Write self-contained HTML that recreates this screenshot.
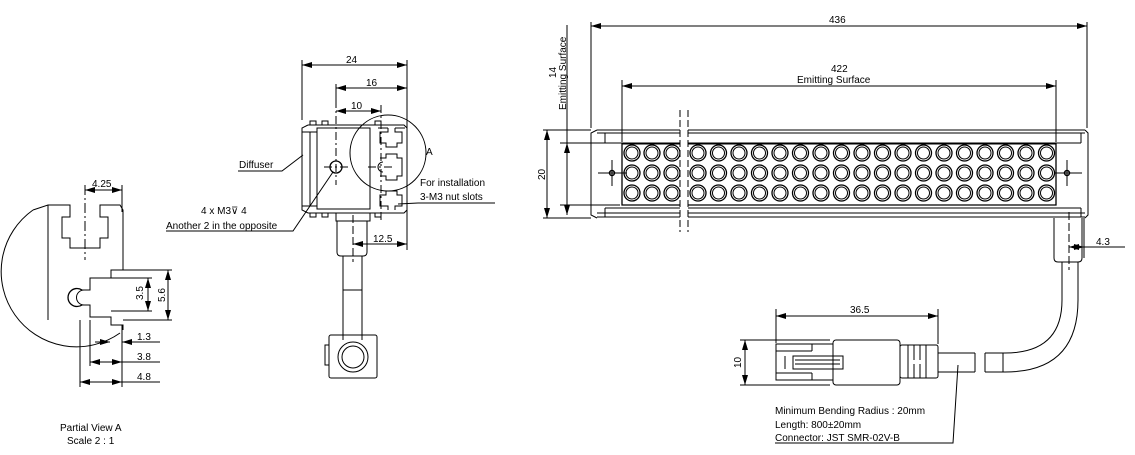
<!DOCTYPE html>
<html><head><meta charset="utf-8"><style>
html,body{margin:0;padding:0;background:#fff;}
svg{display:block;}
text{font-family:"Liberation Sans",sans-serif;font-size:10px;fill:#000;}
</style></head><body>
<svg width="1135" height="455" viewBox="0 0 1135 455" xmlns="http://www.w3.org/2000/svg">
<defs>
<marker id="a" viewBox="0 0 10 6" refX="10" refY="3" markerWidth="10" markerHeight="6" orient="auto-start-reverse" markerUnits="userSpaceOnUse"><path d="M0,0 L10,3 L0,6 z" fill="#000"/></marker>
<g id="led"><circle r="8" fill="none" stroke="#000" stroke-width="1.3"/><circle r="6" fill="none" stroke="#000" stroke-width="1"/></g>
</defs>
<g fill="none" stroke="#000" stroke-width="1">

<!-- ===== Partial view A ===== -->
<path d="M33,210 A75,75 0 0 0 120,333"/>
<path d="M33,210 L48,205 L70,205 L70,217 L62,217 L62,238 L70,238 L70,248 L100,248 L100,238 L108,238 L108,217 L100,217 L100,205 L120,205 L123,210 L123,217"/>
<path d="M48,205 L48,320"/>
<path d="M123,217 L123,270 L111,270 L111,278 L90,278 L90,290 L82,290 M82,305 L90,305 L90,317 L111,317 L111,325 L123,325 L123,330"/>
<path d="M82,290 A9,9 0 1 0 82,305" stroke-width="1.3"/>
<path d="M84,290 A7,7 0 1 0 84,305"/>
<path d="M85,185 L85,260" stroke-dasharray="10,3,2,3"/>
<path d="M122,185 L122,212"/>
<line x1="85" y1="190" x2="122" y2="190" marker-start="url(#a)" marker-end="url(#a)"/>
<path d="M123,270 L172,270 M123,320 L172,320 M111,278 L152,278 M111,311 L152,311"/>
<line x1="168" y1="270" x2="168" y2="320" marker-start="url(#a)" marker-end="url(#a)"/>
<line x1="148" y1="278" x2="148" y2="311" marker-start="url(#a)" marker-end="url(#a)"/>
<path d="M80,320 L80,387 M90,320 L90,366 M122,325 L122,387"/>
<line x1="95" y1="342" x2="110" y2="342" marker-end="url(#a)"/><line x1="137" y1="342" x2="122" y2="342" marker-end="url(#a)"/><path d="M122,342 L160,342"/>
<line x1="90" y1="362" x2="122" y2="362" marker-start="url(#a)" marker-end="url(#a)"/><path d="M122,362 L160,362"/>
<line x1="80" y1="382" x2="122" y2="382" marker-start="url(#a)" marker-end="url(#a)"/><path d="M122,382 L160,382"/>

<!-- ===== Side view ===== -->
<path d="M308,125 L404,125 L407,128 L407,210 L404,213 L308,213 M308,125 L302,128 L302,210 L308,213"/>
<rect x="317" y="128" width="53" height="81"/>
<path d="M310,132 L310,206 M302,132 L317,132 M302,206 L317,206"/>
<path d="M310,125 L310,121 L316,121 L316,125 M322,125 L322,121 L328,121 L328,125 M375,125 L375,121 L381,121 L381,125 M310,213 L310,217 L316,217 L316,213 M322,213 L322,217 L328,217 L328,213 M375,213 L375,217 L381,217 L381,213"/>
<circle cx="336" cy="167" r="6" stroke-width="1.3"/>
<path d="M324,167 L350,167 M336,100 L336,185" stroke-dasharray="8,3,2,3"/>
<circle cx="388" cy="153" r="38"/>
<path d="M395,128 L405,128 M378,128 L388,128 M388,128 L388,132 L380,132 L380,143 L386,143 L386,147 L397,147 L397,143 L402,143 L402,132 L395,132 L395,128"/>
<path d="M380,158 L386,158 L386,154 L397,154 L397,158 L402,158 L402,176 L397,176 L397,180 L386,180 L386,176 L380,176"/>
<path d="M388,210 L388,206 L380,206 L380,195 L386,195 L386,191 L397,191 L397,195 L402,195 L402,206 L395,206 L395,210"/>
<path d="M383,162 A5,5 0 1 0 383,172"/>
<path d="M368,167 L395,167 M381,105 L381,220" stroke-dasharray="8,3,2,3"/>
<path d="M302,60 L302,120 M407,60 L407,250 M336,84 L336,100"/>
<line x1="302" y1="65" x2="407" y2="65" marker-start="url(#a)" marker-end="url(#a)"/>
<line x1="336" y1="88" x2="407" y2="88" marker-start="url(#a)" marker-end="url(#a)"/>
<line x1="336" y1="111" x2="381" y2="111" marker-start="url(#a)" marker-end="url(#a)"/>
<rect x="336" y="213" width="34" height="8"/>
<path d="M337,221 L337,252 Q337,256 341,256 L363,256 Q367,256 367,252 L367,221"/>
<path d="M343,256 L343,340 M362,256 L362,340 M343,290 L362,290"/>
<path d="M353,215 L353,262" stroke-dasharray="8,3"/>
<rect x="329" y="335" width="48" height="43" rx="2"/>
<path d="M329,345 L325,345 L325,365 L329,365"/>
<circle cx="353" cy="357" r="15"/><circle cx="353" cy="357" r="11"/>
<line x1="353" y1="244" x2="407" y2="244" marker-start="url(#a)" marker-end="url(#a)"/>
<path d="M238,171 L282,171 L303,155" />
<path d="M166,231 L293,231 L333,172"/>
<path d="M418,203 L495,203 M418,203 L398,204"/>

<!-- ===== Front view ===== -->
<path d="M597,130 L680,130 M688,130 L1085,130 M597,133 L680,133 M688,133 L1085,133"/>
<path d="M605,143 L680,143 M688,143 L1081,143 M605,208 L680,208 M688,208 L1081,208"/>
<path d="M597,213 L680,213 M688,213 L1085,213 M597,217 L680,217 M688,217 L1085,217"/>
<path d="M597,130 L591,133 L591,215 L597,218 M605,133 L605,143 M605,208 L605,217"/>
<path d="M1081,133 L1081,143 M1081,208 L1081,217 M1085,130 L1088,133 L1088,215 L1085,218"/>
<path d="M622,143 L622,205 L680,205 M688,205 L1056,205 L1056,143" stroke-width="1.3"/>
<path d="M622,144 L680,144 M688,144 L1056,144"/>
<circle cx="612" cy="173" r="2.5" stroke-width="1.5"/><path d="M598,173 L627,173 M612,160 L612,186"/>
<circle cx="1067" cy="173" r="2.5" stroke-width="1.5"/><path d="M1055,173 L1082,173 M1067,160 L1067,186"/>
<g>
<use href="#led" x="632" y="153"/><use href="#led" x="652" y="153"/><use href="#led" x="672" y="153"/>
<use href="#led" x="632" y="173"/><use href="#led" x="652" y="173"/><use href="#led" x="672" y="173"/>
<use href="#led" x="632" y="193"/><use href="#led" x="652" y="193"/><use href="#led" x="672" y="193"/>
</g>
<g id="cols">
<use href="#led" x="698" y="153"/><use href="#led" x="698" y="173"/><use href="#led" x="698" y="193"/>
</g>
<use href="#cols" x="20.5"/><use href="#cols" x="41"/><use href="#cols" x="61.5"/><use href="#cols" x="82"/><use href="#cols" x="102.5"/><use href="#cols" x="123"/><use href="#cols" x="143.5"/><use href="#cols" x="164"/><use href="#cols" x="184.5"/><use href="#cols" x="205"/><use href="#cols" x="225.5"/><use href="#cols" x="246"/><use href="#cols" x="266.5"/><use href="#cols" x="287"/><use href="#cols" x="307.5"/><use href="#cols" x="328"/><use href="#cols" x="348.5"/>
<rect x="680.5" y="120" width="7" height="120" fill="#fff" stroke="none"/>
<path d="M680,110 L680,232 M688,110 L688,232" stroke-dasharray="7,3"/>
<!-- dims -->
<path d="M591,22 L591,128 M1087,22 L1087,128 M622,80 L622,142 M1056,80 L1056,142"/>
<line x1="591" y1="26" x2="1087" y2="26" marker-start="url(#a)" marker-end="url(#a)"/>
<line x1="622" y1="86" x2="1056" y2="86" marker-start="url(#a)" marker-end="url(#a)"/>
<path d="M567,25 L567,143"/>
<line x1="567" y1="143" x2="567" y2="215" marker-start="url(#a)" marker-end="url(#a)"/>
<path d="M560,143 L605,143 M560,205 L620,205 M543,130 L591,130 M543,218 L591,218"/>
<line x1="547" y1="130" x2="547" y2="218" marker-start="url(#a)" marker-end="url(#a)"/>
<!-- connector right -->
<path d="M1054,218 L1054,258 Q1054,262 1058,262 L1078,262 Q1082,262 1082,258 L1082,218"/>
<path d="M1069,212 L1069,270" stroke-dasharray="8,3"/>
<path d="M1084,218 L1084,258"/>
<line x1="1069" y1="247" x2="1084" y2="247" marker-start="url(#a)" marker-end="url(#a)"/>
<path d="M1084,247 L1125,247"/>
<!-- cable -->
<path d="M1078,262 L1078,300 Q1078,372 1005,372 L985,372"/>
<path d="M1062,262 L1062,300 Q1062,353 1005,353 L985,353"/>
<path d="M1003,353 L1003,372 M985,353 L985,372 M975,353 L975,372"/>
<path d="M938,353 L975,353 M938,372 L975,372"/>
<rect x="900" y="345" width="38" height="33" rx="2"/>
<path d="M908,345 L908,378 M914,345 L914,360 M914,364 L914,378 M920,345 L920,360 M920,364 L920,378 M926,345 L926,378"/>
<rect x="833" y="340" width="67" height="45" rx="3"/>
<rect x="776" y="344" width="57" height="36"/>
<path d="M776,351 L812,351 M776,373 L812,373 M812,351 L812,344 M812,373 L812,380"/>
<rect x="793" y="356" width="50" height="13"/>
<path d="M795,360 L840,360 M795,364 L840,364 M785,356 L785,369"/>
<path d="M776,309 L776,343 M938,309 L938,344"/>
<line x1="776" y1="316" x2="938" y2="316" marker-start="url(#a)" marker-end="url(#a)"/>
<path d="M740,340 L830,340 M740,385 L830,385"/>
<line x1="745" y1="340" x2="745" y2="385" marker-start="url(#a)" marker-end="url(#a)"/>
<path d="M958,365 L953,443 L775,443"/>
</g>
<!-- text -->
<text x="92" y="187">4.25</text>
<text x="0" y="0" transform="translate(143,300) rotate(-90)">3.5</text>
<text x="0" y="0" transform="translate(165,302) rotate(-90)">5.6</text>
<text x="137" y="340">1.3</text>
<text x="137" y="360">3.8</text>
<text x="137" y="380">4.8</text>
<text x="60" y="431">Partial View A</text>
<text x="67" y="444">Scale 2 : 1</text>
<text x="346" y="63">24</text>
<text x="366" y="86">16</text>
<text x="351" y="109">10</text>
<text x="426" y="155">A</text>
<text x="239" y="168">Diffuser</text>
<text x="201" y="214">4 x M3⊽ 4</text>
<text x="166" y="229">Another 2 in the opposite</text>
<text x="420" y="186">For installation</text>
<text x="420" y="200">3-M3 nut slots</text>
<text x="373" y="242">12.5</text>
<text x="829" y="23">436</text>
<text x="831" y="72">422</text>
<text x="797" y="83">Emitting Surface</text>
<text transform="translate(556,78) rotate(-90)">14</text>
<text transform="translate(566,110) rotate(-90)">Emitting Surface</text>
<text transform="translate(545,180) rotate(-90)">20</text>
<text x="1096" y="245">4.3</text>
<text x="850" y="313">36.5</text>
<text transform="translate(741,368) rotate(-90)">10</text>
<text x="775" y="414">Minimum Bending Radius : 20mm</text>
<text x="775" y="428">Length: 800±20mm</text>
<text x="775" y="441">Connector: JST SMR-02V-B</text>
</svg>
</body></html>
